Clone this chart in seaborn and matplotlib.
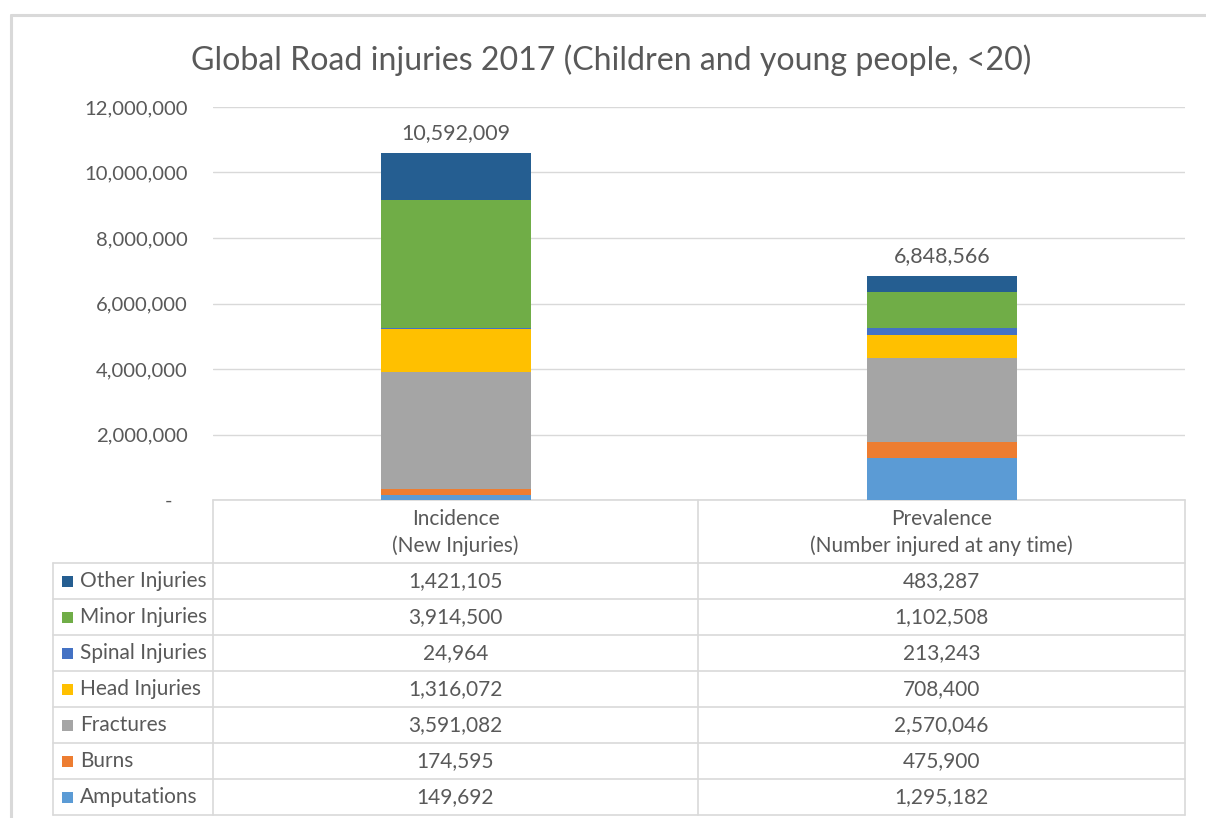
import matplotlib
matplotlib.use("Agg")
import matplotlib.pyplot as plt
import seaborn as sns
import pandas as pd
from matplotlib.ticker import FuncFormatter
from matplotlib.lines import Line2D
from matplotlib.patches import Rectangle

# ---------------- data ----------------
categories = ["Incidence\n(New Injuries)", "Prevalence\n(Number injured at any time)"]
series_names = ["Other Injuries", "Minor Injuries", "Spinal Injuries", "Head Injuries",
                "Fractures", "Burns", "Amputations"]          # table order (top -> bottom)
other_injuries = [1421105, 483287]
minor_injuries = [3914500, 1102508]
spinal_injuries = [24964, 213243]
head_injuries = [1316072, 708400]
fractures = [3591082, 2570046]
burns = [174595, 475900]
amputations = [149692, 1295182]
totals = [10592009, 6848566]
y_ticks = [0, 2000000, 4000000, 6000000, 8000000, 10000000, 12000000]
title = "Global Road injuries 2017 (Children and young people, <20)"

series_values = [other_injuries, minor_injuries, spinal_injuries, head_injuries,
                 fractures, burns, amputations]
colors = ["#255E91", "#70AD47", "#4472C4", "#FFC000", "#A5A5A5", "#ED7D31", "#5B9BD5"]

# ---------------- style ----------------
sns.set_theme(style="white")
plt.rcParams["font.family"] = ["Lato", "DejaVu Sans"]
TXT = "#595959"
GRID = "#D9D9D9"

W, H = 1206, 818
fig = plt.figure(figsize=(W / 100, H / 100), dpi=100)

# overlay axes in pixel coords for frame and table
ov = fig.add_axes([0, 0, 1, 1])
ov.set_xlim(0, W)
ov.set_ylim(H, 0)
ov.axis("off")

# chart axes
L, R, T, B = 213, 1185, 107, 500
ax = fig.add_axes([L / W, 1 - B / H, (R - L) / W, (B - T) / H])

# stacked bars via cumulative overlay (bottom series last)
stack_order = list(reversed(range(len(series_names))))  # amputations first (bottom)
cum = [0.0] * len(categories)
cum_list = []
for i in stack_order:
    cum = [c + v for c, v in zip(cum, series_values[i])]
    cum_list.append((i, list(cum)))
for i, c in reversed(cum_list):
    df = pd.DataFrame({"cat": categories, "val": c})
    sns.barplot(data=df, x="cat", y="val", color=colors[i], saturation=1,
                width=0.31, errorbar=None, ax=ax, linewidth=0, zorder=3)

ax.set_ylim(0, 12000000)
ax.set_xlim(-0.5, 1.5)
ax.set_yticks(y_ticks)
ax.yaxis.set_major_formatter(FuncFormatter(
    lambda v, p: "-   " if v == 0 else f"{v:,.0f}"))
ax.tick_params(axis="y", length=0, pad=18, labelsize=14.6, labelcolor=TXT)
ax.set_xticks([])
ax.set_xlabel("")
ax.set_ylabel("")
for s in ax.spines.values():
    s.set_visible(False)
ax.grid(axis="y", color=GRID, linewidth=1, zorder=0)
ax.set_axisbelow(True)
ax.patch.set_alpha(0)

# total labels
for xi, (tot, lab) in enumerate(zip([sum(v[k] for v in series_values) for k in range(2)], totals)):
    ax.annotate(f"{lab:,}", (xi, tot), xytext=(0, 7), textcoords="offset points",
                ha="center", va="bottom", fontsize=15.5, color=TXT, annotation_clip=False)

# title
fig.text(611 / W, 1 - 60 / H, title, ha="center", va="center", fontsize=23.1, color=TXT)

# frame
ov.add_line(Line2D([11, 11], [15, H], color=GRID, lw=2.2))
ov.add_line(Line2D([11, W], [15, 15], color=GRID, lw=2.2))

# data table
col_x = [53, 213, 698, 1185]
header_top, header_bot = 500, 563
row_h = 36
rows_y = [header_bot + k * row_h for k in range(len(series_names) + 1)]
lw = 1.2
ov.add_line(Line2D([213, 1185], [header_top, header_top], color=GRID, lw=lw))
for y in rows_y:
    ov.add_line(Line2D([53, 1185], [y, y], color=GRID, lw=lw))
ov.add_line(Line2D([53, 53], [header_bot, rows_y[-1]], color=GRID, lw=lw))
for x in col_x[1:]:
    ov.add_line(Line2D([x, x], [header_top, rows_y[-1]], color=GRID, lw=lw))

centers = [(col_x[1] + col_x[2]) / 2, (col_x[2] + col_x[3]) / 2]
for cx, cat in zip(centers, categories):
    l1, l2 = cat.split("\n")
    ov.text(cx, 519, l1, ha="center", va="center", fontsize=15, color=TXT)
    ov.text(cx, 546, l2, ha="center", va="center", fontsize=15, color=TXT)

for r, (name, vals, col) in enumerate(zip(series_names, series_values, colors)):
    yc = rows_y[r] + row_h / 2
    ov.add_patch(Rectangle((62, yc - 5.5), 11, 11, color=col, lw=0))
    ov.text(80, yc, name, ha="left", va="center", fontsize=15, color=TXT)
    for cx, v in zip(centers, vals):
        ov.text(cx, yc, f"{v:,}", ha="center", va="center", fontsize=15, color=TXT)

fig.savefig("out.png", dpi=100)
